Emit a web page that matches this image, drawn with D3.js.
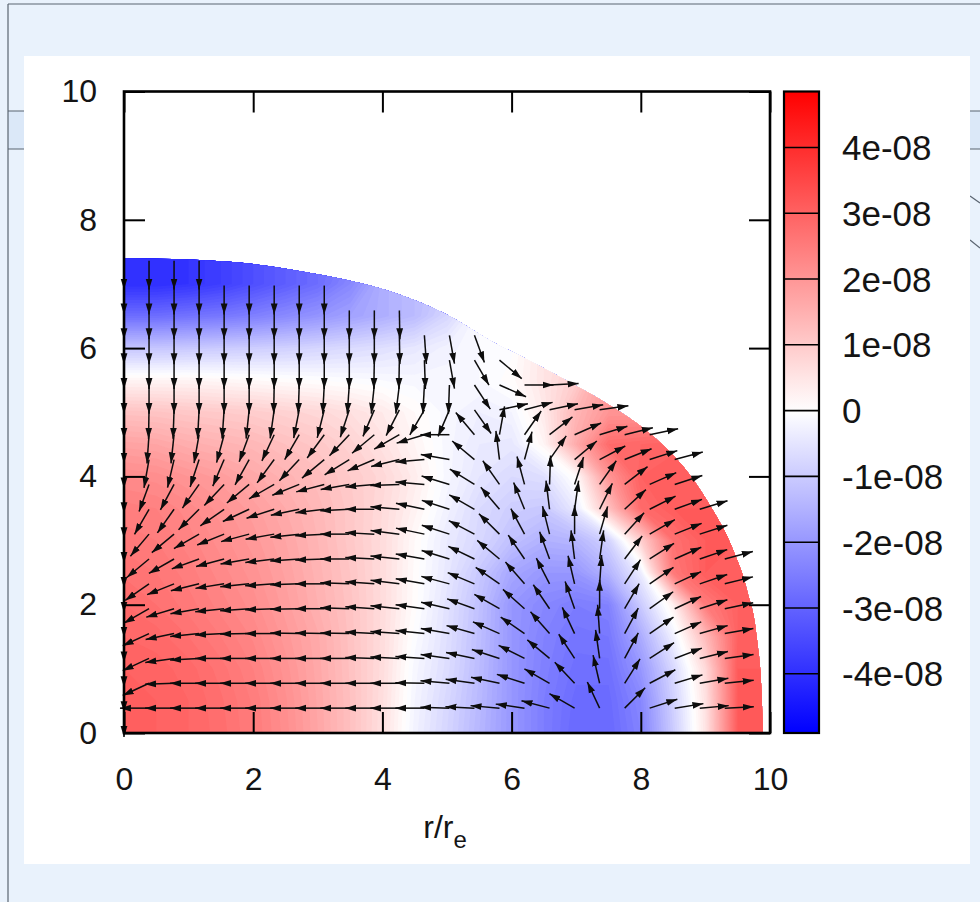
<!DOCTYPE html>
<html>
<head>
<meta charset="utf-8">
<script src="https://cdn.jsdelivr.net/npm/d3@7"></script>
<style>
  html, body { margin: 0; padding: 0; background: #e9f2fc; }
  svg { display: block; }
  text { font-family: "Liberation Sans", Arial, sans-serif; fill: #141414; }
</style>
</head>
<body>
<svg id="chart" width="980" height="902"></svg>
<script>
// axis ticks
const rTicks = [0, 2, 4, 6, 8, 10];
const zTicks = [0, 2, 4, 6, 8, 10];

// colour bar
const cbDomain = [-4.9e-8, 4.85e-8];
const cbTicks = [-4e-8, -3e-8, -2e-8, -1e-8, 0, 1e-8, 2e-8, 3e-8, 4e-8];
const cbLabels = ["-4e-08", "-3e-08", "-2e-08", "-1e-08", "0", "1e-08", "2e-08", "3e-08", "4e-08"];

// scalar field, units of 1e-8, rows z = 0, 0.5, 1 ... ; columns r = 0, 0.5, 1 ...
const fieldStep = 0.5;
const fieldRows = [
  [3.05, 3.0, 2.9, 2.75, 2.5, 2.15, 1.7, 1.2, 0.6, -0.25, -0.8, -1.4, -2.0, -2.5, -2.9, -2.9, -2.4, -1.0, 0.5, 3.1],
  [3.05, 3.0, 2.9, 2.72, 2.48, 2.12, 1.68, 1.2, 0.62, -0.2, -0.75, -1.35, -2.0, -2.5, -2.85, -2.85, -2.3, -0.9, 0.55, 3.1],
  [3.0, 2.95, 2.85, 2.65, 2.4, 2.05, 1.65, 1.18, 0.65, -0.15, -0.65, -1.3, -2.0, -2.45, -2.75, -2.75, -2.0, -0.75, 0.7, 3.1],
  [2.9, 2.85, 2.7, 2.5, 2.28, 1.95, 1.62, 1.16, 0.66, -0.05, -0.6, -1.25, -2.0, -2.4, -2.65, -2.6, -1.6, -0.3, 1.3, 3.0],
  [2.8, 2.7, 2.55, 2.35, 2.15, 1.85, 1.5, 1.14, 0.67, 0.05, -0.55, -1.2, -2.0, -2.3, -2.5, -2.4, -1.0, 0.3, 2.5, 3.0],
  [2.68, 2.6, 2.45, 2.25, 2.05, 1.78, 1.45, 1.1, 0.67, 0.07, -0.45, -1.05, -1.7, -2.0, -2.0, -1.45, -0.35, 2.55, 3.1],
  [2.55, 2.5, 2.35, 2.15, 1.95, 1.7, 1.4, 1.05, 0.67, 0.1, -0.4, -0.75, -1.2, -1.5, -1.4, -0.85, 0.9, 2.7, 3.1],
  [2.45, 2.4, 2.25, 2.05, 1.85, 1.6, 1.35, 1.05, 0.7, 0.25, -0.25, -0.7, -0.95, -1.05, -0.4, 1.2, 2.8, 3.1],
  [2.2, 2.15, 2.0, 1.85, 1.65, 1.45, 1.25, 1.0, 0.75, 0.35, -0.15, -0.5, -0.7, -0.6, 0.1, 2.0, 3.0],
  [1.75, 1.7, 1.55, 1.45, 1.35, 1.2, 1.05, 0.85, 0.55, 0.2, -0.15, -0.4, -0.45, 0.2, 1.6, 2.8],
  [1.15, 1.12, 1.05, 1.0, 0.95, 0.85, 0.75, 0.6, 0.4, 0.1, -0.15, -0.3, -0.2, 0.4, 1.4, 2.0],
  [0.2, 0.2, 0.2, 0.15, 0.1, 0.05, 0.0, -0.05, -0.1, -0.15, -0.15, -0.1, 0.05, 0.5],
  [-1.1, -1.1, -1.05, -1.0, -0.95, -0.9, -0.8, -0.7, -0.6, -0.45, -0.25, -0.1],
  [-2.8, -2.8, -2.7, -2.6, -2.45, -2.25, -2.05, -1.8, -1.55, -1.3],
  [-4.0, -4.0, -3.9, -3.7, -3.4, -3.1, -2.8],
  []
];

// outer edge of the coloured region
const edgeR = [0, 1, 2, 3, 4, 5, 5.7, 6.25, 6.75, 7.2, 7.66, 8.2, 8.66, 9.07, 9.41, 9.65, 9.8, 9.87, 9.89];
const edgeZ = [7.4, 7.38, 7.31, 7.15, 6.92, 6.52, 6.1, 5.82, 5.55, 5.3, 5.02, 4.62, 4.15, 3.55, 2.9, 2.2, 1.45, 0.6, 0];

// arrow directions (degrees) on the vector grid; row j is z = j*step, column i is r = i*step
const arrowStep = 0.3875;
const arrowLength = 0.45;
const arrowAngles = [
  [],
  [-90, 180, 180, 180, 180, 180, 180, 180, 180, 180, 180, 180, 180, 178, 177, 175, 172, 165, 150, 115, 45, 18, 9, 5, 3],
  [-90, -155, -178, 180, 180, 180, 180, 180, 180, 180, 180, 180, 179, 175, 172, 168, 162, 150, 133, 103, 58, 28, 17, 10, 6],
  [-90, -155, -172, -177, 180, 180, 180, 180, 180, 180, 178, 177, 176, 172, 168, 162, 153, 140, 123, 98, 62, 33, 21, 14, 8],
  [-90, -155, -168, -174, -177, -179, 180, 179, 179, 179, 177, 176, 174, 170, 164, 156, 145, 131, 115, 94, 62, 35, 24, 16, 10],
  [-90, -150, -163, -170, -174, -176, -178, -179, 180, 178, 176, 174, 172, 167, 160, 150, 138, 124, 109, 90, 60, 36, 25, 18, 12],
  [-90, -145, -158, -166, -171, -174, -176, -178, 180, 178, 176, 173, 170, 165, 157, 145, 131, 117, 103, 86, 57, 35, 25, 19, 14],
  [-90, -140, -150, -160, -165, -170, -173, -176, -178, 180, 177, 174, 170, 163, 154, 140, 124, 110, 97, 82, 53, 33, 24, 19, 15],
  [-90, -130, -140, -150, -158, -165, -170, -174, -177, 180, 177, 173, 168, 162, 152, 135, 118, 104, 90, 74, 48, 30, 22, 18],
  [-90, -120, -125, -135, -145, -155, -162, -168, -173, -177, 180, 175, 168, 162, 150, 130, 112, 97, 82, 64, 43, 27, 20, 17],
  [-90, -110, -118, -125, -133, -140, -150, -158, -165, -170, -175, -178, 175, 163, 148, 125, 105, 88, 72, 55, 38, 24, 18],
  [-90, -100, -103, -108, -113, -119, -126, -133, -140, -148, -157, -166, -175, 170, 140, 97, 75, 55, 40, 28, 22, 18, 15],
  [-90, -94, -96, -100, -105, -110, -115, -120, -126, -133, -140, -150, -163, 180, 130, 80, 55, 38, 24, 17, 14, 12],
  [-90, -91, -92, -93, -94, -96, -98, -101, -104, -108, -113, -117, -120, -113, -55, 12, 15, 12, 10, 8],
  [-90, -90, -90, -90, -90, -90, -91, -92, -93, -94, -96, -97, -93, -92, -57, -24, 0, 3],
  [-90, -90, -90, -90, -90, -90, -90, -90, -90, -90, -91, -91, -88, -80, -60, -40],
  [-90, -90, -90, -90, -90, -90, -90, -90, -90, -90, -90, -89, -86, -80, -70],
  [-90, -90, -90, -90, -90, -90, -90, -90, -90, -90, -90, -89],
  [-90, -90, -90, -90, -90, -90, -90, -90, -90],
  [-90, -90, -90, -90]
];

const svg = d3.select("#chart");

// page behind the figure
svg.append("rect").attr("width", 980).attr("height", 902).attr("fill", "#e9f2fc");
svg.append("rect").attr("x", 8).attr("y", 111).attr("width", 972).attr("height", 38).attr("fill", "#dbe8f8");
svg.append("g")
  .attr("stroke", "#5a6470")
  .attr("stroke-width", 1.2)
  .selectAll("line")
  .data([[8, 111, 980, 111], [8, 149, 980, 149], [8, 4, 980, 4], [8, 4, 8, 902], [970, 196, 980, 203], [970, 240, 980, 248]])
  .join("line")
  .attr("x1", (d) => d[0]).attr("y1", (d) => d[1])
  .attr("x2", (d) => d[2]).attr("y2", (d) => d[3]);
svg.append("rect").attr("x", 24).attr("y", 56).attr("width", 946).attr("height", 808).attr("fill", "#fff");

const x = d3.scaleLinear().domain([0, 10]).range([124, 770]);
const y = d3.scaleLinear().domain([0, 10]).range([733, 91.5]);
const color = d3.scaleLinear()
  .domain([cbDomain[0], 0, cbDomain[1]])
  .range(["#0000ff", "#ffffff", "#ff0000"]);

// field grid, edge cells outside the region take the value of their neighbours
const nCols = 21;
const nRows = fieldRows.length;
let grid = [];
for (let j = 0; j < nRows; j++) {
  for (let i = 0; i < nCols; i++) {
    const v = fieldRows[j][i];
    grid.push(v == null ? NaN : v);
  }
}
while (grid.some(Number.isNaN)) {
  const next = grid.slice();
  for (let j = 0; j < nRows; j++) {
    for (let i = 0; i < nCols; i++) {
      const k = j * nCols + i;
      if (!Number.isNaN(grid[k])) continue;
      const near = [[i - 1, j], [i + 1, j], [i, j - 1], [i, j + 1]]
        .filter(([a, b]) => a >= 0 && a < nCols && b >= 0 && b < nRows)
        .map(([a, b]) => grid[b * nCols + a])
        .filter((v) => !Number.isNaN(v));
      if (near.length) next[k] = d3.mean(near);
    }
  }
  grid = next;
}

const bandStep = 0.1;
const thresholds = d3.range(-5, 5.0001, bandStep);
const bands = d3.contours().size([nCols, nRows]).thresholds(thresholds)(grid);
const gridPath = d3.geoPath(d3.geoTransform({
  point(px, py) {
    this.stream.point(x((px - 0.5) * fieldStep), y((py - 0.5) * fieldStep));
  }
}));

const edgeLine = d3.line()
  .x((d) => x(d[0]))
  .y((d) => y(d[1]))
  .curve(d3.curveMonotoneX);
const edgePoints = edgeR.map((r, k) => [r, edgeZ[k]]);

const defs = svg.append("defs");
defs.append("clipPath").attr("id", "region")
  .append("path")
  .attr("d", edgeLine(edgePoints) + `L${x(0)},${y(0)}Z`);

defs.append("marker")
  .attr("id", "head")
  .attr("viewBox", "0 -4 11 8")
  .attr("refX", 11)
  .attr("refY", 0)
  .attr("markerWidth", 11)
  .attr("markerHeight", 8)
  .attr("markerUnits", "userSpaceOnUse")
  .attr("orient", "auto")
  .append("path")
  .attr("d", "M0,-3.4L11,0L0,3.4Z")
  .attr("fill", "#0d0d0d");

const cbGrad = defs.append("linearGradient")
  .attr("id", "cbGrad")
  .attr("x1", 0).attr("y1", 1).attr("x2", 0).attr("y2", 0);
cbGrad.selectAll("stop")
  .data(d3.range(0, 1.0001, 0.05))
  .join("stop")
  .attr("offset", (t) => t)
  .attr("stop-color", (t) => color(cbDomain[0] + t * (cbDomain[1] - cbDomain[0])));

svg.append("g")
  .attr("clip-path", "url(#region)")
  .selectAll("path")
  .data(bands)
  .join("path")
  .attr("d", gridPath)
  .attr("fill", (d) => color((d.value + bandStep / 2) * 1e-8));

// vector field
const arrows = arrowAngles.flatMap((row, j) =>
  row.map((deg, i) => ({ r: i * arrowStep, z: j * arrowStep, a: (deg * Math.PI) / 180 }))
);
svg.append("g")
  .attr("stroke", "#0d0d0d")
  .attr("stroke-width", 1.5)
  .selectAll("line")
  .data(arrows)
  .join("line")
  .attr("x1", (d) => x(d.r))
  .attr("y1", (d) => y(d.z))
  .attr("x2", (d) => x(d.r + arrowLength * Math.cos(d.a)))
  .attr("y2", (d) => y(d.z + arrowLength * Math.sin(d.a)))
  .attr("marker-end", "url(#head)");

// axes
const tickLen = 21;
const axisFont = 32;
function styleAxis(g) {
  g.select(".domain").remove();
  g.selectAll(".tick line").attr("stroke", "#000").attr("stroke-width", 2);
  g.selectAll("text").style("font-size", axisFont + "px").attr("fill", "#141414");
}
svg.append("g")
  .attr("transform", `translate(0,${y(0)})`)
  .call(d3.axisBottom(x).tickValues(rTicks).tickSizeInner(-tickLen).tickSizeOuter(0).tickPadding(34).tickFormat(d3.format("d")))
  .call(styleAxis);
svg.append("g")
  .attr("transform", `translate(0,${y(10)})`)
  .call(d3.axisTop(x).tickValues(rTicks).tickSizeInner(-tickLen).tickSizeOuter(0).tickFormat(""))
  .call(styleAxis);
svg.append("g")
  .attr("transform", `translate(${x(0)},0)`)
  .call(d3.axisLeft(y).tickValues(zTicks).tickSizeInner(-tickLen).tickSizeOuter(0).tickPadding(27).tickFormat(d3.format("d")))
  .call(styleAxis);
svg.append("g")
  .attr("transform", `translate(${x(10)},0)`)
  .call(d3.axisRight(y).tickValues(zTicks).tickSizeInner(-tickLen).tickSizeOuter(0).tickFormat(""))
  .call(styleAxis);

svg.append("rect")
  .attr("x", x(0)).attr("y", y(10))
  .attr("width", x(10) - x(0)).attr("height", y(0) - y(10))
  .attr("fill", "none").attr("stroke", "#000").attr("stroke-width", 2.6);

const xLabel = svg.append("text")
  .attr("x", x(5) - 2)
  .attr("y", 838)
  .attr("text-anchor", "middle")
  .style("font-size", axisFont + "px");
xLabel.append("tspan").text("r/r");
xLabel.append("tspan").attr("dy", 10).style("font-size", "24px").text("e");

// colour bar
const cb = d3.scaleLinear().domain(cbDomain).range([y(0), y(10)]);
const cbX = 784;
const cbW = 35;
svg.append("rect")
  .attr("x", cbX).attr("y", cb(cbDomain[1]))
  .attr("width", cbW).attr("height", cb(cbDomain[0]) - cb(cbDomain[1]))
  .attr("fill", "url(#cbGrad)");
svg.append("g")
  .selectAll("line")
  .data(cbTicks)
  .join("line")
  .attr("x1", cbX).attr("x2", cbX + cbW)
  .attr("y1", (d) => cb(d)).attr("y2", (d) => cb(d))
  .attr("stroke", "#000").attr("stroke-width", 1.6);
svg.append("rect")
  .attr("x", cbX).attr("y", cb(cbDomain[1]))
  .attr("width", cbW).attr("height", cb(cbDomain[0]) - cb(cbDomain[1]))
  .attr("fill", "none").attr("stroke", "#000").attr("stroke-width", 2.2);
svg.append("g")
  .selectAll("text")
  .data(cbTicks)
  .join("text")
  .attr("x", 842)
  .attr("y", (d) => cb(d))
  .attr("dy", "0.36em")
  .style("font-size", "35px")
  .text((d, k) => cbLabels[k]);
</script>
</body>
</html>
